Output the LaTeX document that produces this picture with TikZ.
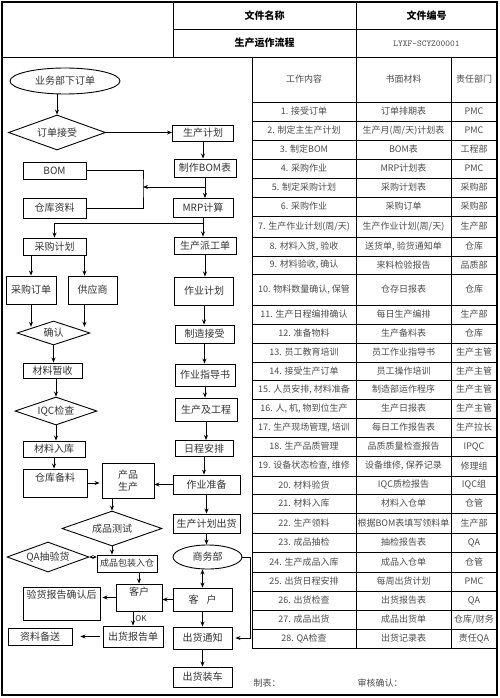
\documentclass[tikz,border=0pt]{standalone}
\usepackage{fontspec}
\setmainfont{Noto Sans CJK SC}
\usetikzlibrary{shapes.geometric,arrows.meta}

\begin{document}
\begin{tikzpicture}[x=1pt, y=-1pt, >={Stealth[length=5pt,width=4pt]},
  box/.style={draw, line width=0.9pt, inner sep=0pt, text=black!80, font=\fontsize{10}{12}\selectfont},
  dia/.style={draw, diamond, aspect=3, line width=0.9pt, inner sep=0pt, text=black!80, font=\fontsize{10}{12}\selectfont},
  oval/.style={draw, ellipse, line width=0.9pt, inner sep=0pt, text=black!80, font=\fontsize{10}{12}\selectfont},
  flow/.style={line width=0.8pt},
  grid/.style={line width=0.7pt},
  frame/.style={line width=1.6pt},
  cell/.style={inner sep=0pt, text=black!70, font=\fontsize{9}{11}\selectfont},
  head/.style={inner sep=0pt, font=\bfseries\fontsize{10}{12}\selectfont}]
\useasboundingbox (0,0) rectangle (500,698);

\draw[frame] (2,2) rectangle (497,695);
\draw[grid] (173,2) -- (173,57);
\draw[grid] (356,2) -- (356,648);
\draw[grid] (173,29) -- (497,29);
\draw[grid] (2,57) -- (497,57);
\draw[grid] (252,57) -- (252,648);
\draw[grid] (451,57) -- (451,648);
\draw[grid] (252,102) -- (497,102);

\node[head] (mc) at (264.5,15.5) {文件名称};
\node[head] (bh) at (426.5,15.5) {文件编号};
\node[head] (lc) at (264.5,43) {生产运作流程};
\node[inner sep=0pt, text=black!70, font=\ttfamily\fontsize{9}{11}\selectfont] (no) at (426.5,43.5) {LYXF-SCYZ00001};

\node[cell] (h1) at (304,79.5) {工作内容};
\node[cell] (h2) at (403.5,79.5) {书面材料};
\node[cell] (h3) at (474,79.5) {责任部门};

\foreach \ya/\yb/\wa/\wb/\wc [count=\i] in {
  102/121/1. 接受订单/订单排期表/PMC,
  121/140/2. 制定主生产计划/{生产月(周/天)计划表}/PMC,
  140/159/3. 制定BOM/BOM表/工程部,
  159/178/4. 采购作业/MRP计划表/PMC,
  178/197/5. 制定采购计划/采购计划表/采购部,
  197/216/6. 采购作业/采购订单/采购部,
  216/237/{7. 生产作业计划(周/天)}/{生产作业计划(周/天)}/生产部,
  237/256/{8. 材料入货, 验收}/{送货单, 验货通知单}/仓库,
  256/274/{9. 材料验收, 确认}/来料检验报告/品质部,
  274/305/{10. 物料数量确认, 保管}/仓存日报表/仓库,
  305/324/11. 生产日程编排确认/每日生产编排/生产部,
  324/343/12. 准备物料/生产备料表/仓库,
  343/362/13. 员工教育培训/员工作业指导书/生产主管,
  362/380/14. 接受生产订单/员工操作培训/生产主管,
  380/399/{15. 人员安排, 材料准备}/制造部运作程序/生产主管,
  399/418/{16. 人, 机, 物到位生产}/生产日报表/生产主管,
  418/437/{17. 生产现场管理, 培训}/每日工作报告表/生产拉长,
  437/456/18. 生产品质管理/品质质量检查报告/IPQC,
  456/476/{19. 设备状态检查, 维修}/{设备维修, 保养记录}/修理组,
  476/494/20. 材料验货/IQC质检报告/IQC组,
  494/513/21. 材料入库/材料入仓单/仓管,
  513/533/22. 生产领料/根据BOM表填写领料单/生产部,
  533/552/23. 成品抽检/抽检报告表/QA,
  552/572/24. 生产成品入库/成品入仓单/仓管,
  572/591/25. 出货日程安排/每周出货计划/PMC,
  591/610/26. 出货检查/出货报告表/QA,
  610/629/27. 成品出货/成品出货单/{仓库/财务},
  629/648/28. QA检查/出货记录表/责任QA}{
  \draw[grid] (252,\yb) -- (497,\yb);
  \node[cell] (wa\i) at (304,{(\ya+\yb)/2}) {\wa};
  \node[cell] (wb\i) at (403.5,{(\ya+\yb)/2}) {\wb};
  \node[cell] (wc\i) at (474,{(\ya+\yb)/2}) {\wc};
}

\node[cell] (zbiao) at (267,683) {制表：};
\node[cell] (shqr) at (380,683) {审核确认：};

\node[oval, minimum width=110pt, minimum height=26pt] (yw) at (65,81) {业务部下订单};
\node[dia, minimum width=97pt, minimum height=35pt] (dd) at (57,132.5) {订单接受};
\node[box, minimum width=63pt, minimum height=17pt] (bom) at (54.5,170.5) {BOM};
\node[box, minimum width=63pt, minimum height=20pt] (ck) at (54.5,208) {仓库资料};
\node[box, minimum width=63pt, minimum height=17pt] (cg) at (54.5,246.5) {采购计划};
\node[box, minimum width=50pt, minimum height=28pt] (cgdd) at (31,290) {采购订单};
\node[box, minimum width=49pt, minimum height=28pt] (gys) at (92.5,290) {供应商};
\node[dia, minimum width=73pt, minimum height=24pt] (qr) at (53.5,333) {确认};
\node[box, minimum width=59pt, minimum height=15pt] (cl) at (52.5,370.5) {材料暂收};
\node[dia, minimum width=82pt, minimum height=28pt] (iqc) at (56,411) {IQC检查};
\node[box, minimum width=62pt, minimum height=16pt] (rk) at (54,449) {材料入库};
\node[box, minimum width=64pt, text height=12.4pt, text depth=15.6pt] (bl) at (55,483) {仓库备料};
\node[box, minimum width=52pt, minimum height=35pt, align=center] (cp) at (128,480.5) {产品\\生产};
\node[dia, minimum width=100pt, minimum height=35pt] (cs) at (112,528.5) {成品测试};
\node[dia, minimum width=82pt, minimum height=30pt] (qa) at (48,557) {QA抽验货};
\node[box, minimum width=60pt, minimum height=17pt, font=\fontsize{9}{11}\selectfont] (bz) at (127,563.5) {成品包装入仓};
\node[box, minimum width=46pt, text height=11.4pt, text depth=15.6pt] (kh1) at (139,597.5) {客户};
\node[box, minimum width=77pt, text height=11.4pt, text depth=21.6pt] (yh) at (61.5,603.5) {验货报告确认后};
\node[box, minimum width=60pt, minimum height=21pt] (bg) at (133,636.5) {出货报告单};
\node[box, minimum width=64pt, minimum height=17pt] (zl) at (40,636.5) {资料备送};

\node[box, minimum width=61pt, minimum height=16pt] (jh) at (203,133) {生产计划};
\node[box, minimum width=62pt, minimum height=18pt] (zb) at (205,168) {制作BOM表};
\node[box, minimum width=60pt, minimum height=19pt] (mrp) at (203,208) {MRP计算};
\node[box, minimum width=62pt, minimum height=17pt] (pg) at (205,245.5) {生产派工单};
\node[box, minimum width=59pt, minimum height=28pt] (zyjh) at (204,291) {作业计划};
\node[box, minimum width=59pt, minimum height=18pt] (zz) at (204.5,334) {制造接受};
\node[box, minimum width=60pt, minimum height=22pt] (zd) at (205,375) {作业指导书};
\node[box, minimum width=62pt, minimum height=23pt] (gc) at (206,409.5) {生产及工程};
\node[box, minimum width=58pt, minimum height=16pt] (rc) at (204,448.5) {日程安排};
\node[box, minimum width=67pt, minimum height=19pt] (zbei) at (206.5,484.5) {作业准备};
\node[box, minimum width=67pt, minimum height=19pt] (jhch) at (206.5,523.5) {生产计划出货};
\node[oval, minimum width=69pt, minimum height=24pt] (sw) at (207.5,557) {商务部};
\node[box, minimum width=59pt, minimum height=23pt] (kh2) at (202.5,599.5) {客\hspace{8pt}户};
\node[box, minimum width=59pt, minimum height=22pt] (tz) at (202.5,638) {出货通知};
\node[box, minimum width=59pt, minimum height=20pt] (zc) at (202.5,677) {出货装车};

\coordinate (j1) at (143,187);
\coordinate (j2) at (203,223);
\coordinate (c1) at ([xshift=-2pt]cg.south east);

\draw[flow, ->] (yw.south -| dd.north) -- (dd.north);
\draw[flow, ->] (dd.east) -- (dd.east -| jh.west);
\draw[flow, ->] (jh) -- (jh |- zb.north);
\draw[flow] (bom.east) -| (j1) |- (ck.east);
\draw[flow, ->] (zb) -- (zb |- mrp.north);
\draw[flow, ->] (zb |- j1) -- (j1);
\draw[flow, ->] (mrp) -- (mrp |- pg.north);
\draw[flow, ->] (j2) -| (cg.north);
\draw[flow, ->] (cg.south -| cgdd.north) -- (cgdd.north);
\draw[flow, ->] (c1) -- (c1 |- gys.north);
\draw[flow, ->] (cgdd) -- (cgdd |- qr.north west);
\draw[flow, ->] (c1 |- gys.south) -- (c1 |- qr.north east);
\draw[flow, ->] (qr) -- (qr |- cl.north);
\draw[flow, ->] (iqc.north |- cl.south) -- (iqc.north);
\draw[flow, ->] (iqc) -- (iqc |- rk.north);
\draw[flow, ->] (rk) -- (rk |- bl.north);
\draw[flow, ->, shorten >=2pt] (bl.east) -- (bl.east -| cp.west);
\draw[flow, ->] (zbei.west) -- (zbei.west -| cp.east);
\draw[flow, ->] (cs.north |- cp.south) -- (cs.north);
\draw[flow, ->] (cs) -- (cs |- bz.north);
\draw[flow, <->, >={Stealth[length=3.5pt,width=3.5pt]}] (qa.east) -- (qa.east -| bz.west);
\draw[flow, ->] (kh1.north |- bz.south) -- (kh1.north);
\draw[flow, ->, shorten >=2pt] (kh1.west) -- (kh1.west -| yh.east);
\draw[flow, ->] (bg.north |- kh1.south) -- (bg.north) node[midway, right, inner sep=2pt, text=black!80, font=\fontsize{8}{9}\selectfont] (ok) {OK};
\draw[flow, ->, shorten <=3pt, shorten >=8pt] (bg.west) -- (bg.west -| zl.east);

\draw[flow, ->] (pg) -- (pg |- zyjh.north);
\draw[flow, ->] (zyjh) -- (zyjh |- zz.north);
\draw[flow, ->] (zz) -- (zz |- zd.north);
\draw[flow, ->] (zd) -- (zd |- gc.north);
\draw[flow, ->] (gc) -- (gc |- rc.north);
\draw[flow, ->] (rc) -- (rc |- zbei.north);
\draw[flow, ->] (zbei) -- (zbei |- jhch.north);
\draw[flow, ->] (jhch) -- (jhch |- sw.north);
\draw[flow, <->] (kh2.north |- sw.south) -- (kh2.north);
\draw[flow, ->] (kh2.west) -- (kh2.west -| kh1.east);
\draw[flow, ->] (kh2) -- (kh2 |- tz.north);
\draw[flow, ->] (tz) -- (tz |- zc.north);
\draw[flow, ->, shorten >=3pt] (sw.east) -- ++(8,0) |- (tz.east);
\end{tikzpicture}
\end{document}
